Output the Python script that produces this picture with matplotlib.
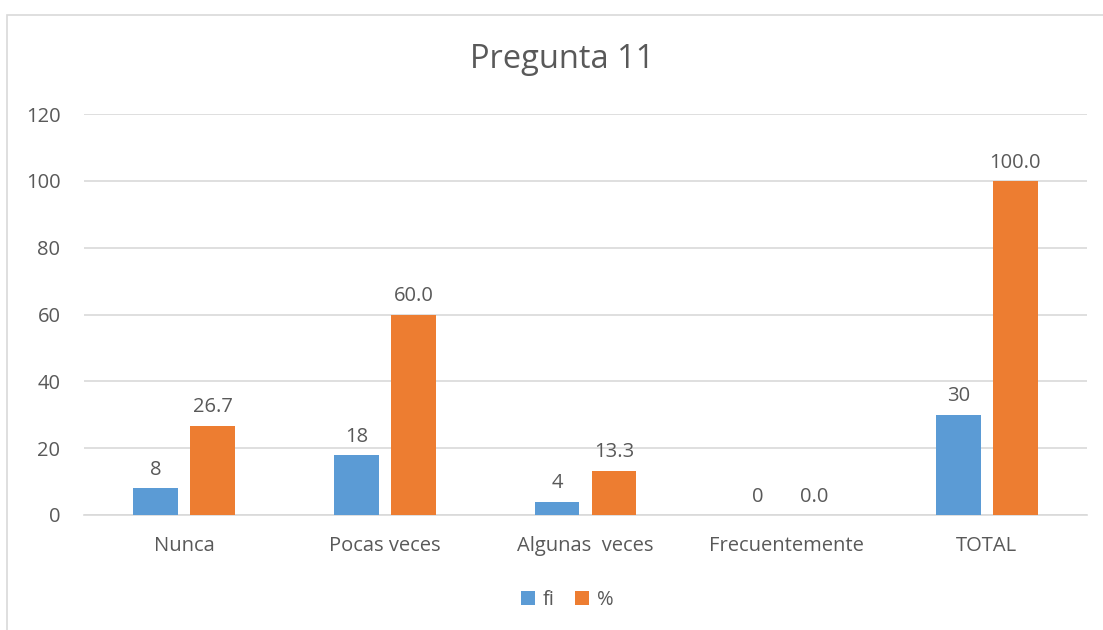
import matplotlib
matplotlib.use('Agg')
import matplotlib.pyplot as plt
from matplotlib.patches import Rectangle
import numpy as np

categories = ['Nunca', 'Pocas veces', 'Algunas  veces', 'Frecuentemente', 'TOTAL']
fi = [8, 18, 4, 0, 30]
pct = [26.7, 60.0, 13.3, 0.0, 100.0]

plt.rcParams['font.family'] = ['Open Sans', 'DejaVu Sans']
txt = '#595959'

fig = plt.figure(figsize=(11.03, 6.3), dpi=100)
ax = fig.add_axes([84 / 1103, 1 - 515 / 630, 1003 / 1103, 401 / 630])

# marco del gráfico
fig.patches.append(Rectangle((7 / 1103, -0.1), 1.2, 1 - 15 / 630 + 0.1,
                             transform=fig.transFigure, fill=False,
                             edgecolor='#d9d9d9', linewidth=1.2))

x = np.arange(len(categories))
w = 0.224
off = 0.142
b1 = ax.bar(x - off, fi, w, color='#5b9bd5', label='fi', zorder=3)
b2 = ax.bar(x + off, pct, w, color='#ed7d31', label='%', zorder=3)

for rect, v in zip(b1, fi):
    ax.annotate(f'{v}', (rect.get_x() + rect.get_width() / 2, v),
                xytext=(0, 6), textcoords='offset points',
                ha='center', va='bottom', fontsize=14.5, color=txt)
for rect, v in zip(b2, pct):
    ax.annotate(f'{v:.1f}', (rect.get_x() + rect.get_width() / 2, v),
                xytext=(0, 6), textcoords='offset points',
                ha='center', va='bottom', fontsize=14.5, color=txt)

ax.set_xlim(-0.5, len(categories) - 0.5)
ax.set_ylim(0, 120)
ax.set_yticks(range(0, 121, 20))
ax.set_xticks(x)
ax.set_xticklabels(categories)
ax.grid(axis='y', color='#d9d9d9', linewidth=1.2, zorder=0)
for s in ['top', 'right', 'left']:
    ax.spines[s].set_visible(False)
ax.spines['bottom'].set_color('#d9d9d9')
ax.spines['bottom'].set_linewidth(1.2)
ax.tick_params(axis='both', length=0, labelsize=14.5, colors=txt)
ax.tick_params(axis='x', pad=15)
ax.tick_params(axis='y', pad=17)

fig.text(562 / 1103, 1 - 60 / 630, 'Pregunta 11', ha='center', va='center',
         fontsize=23.5, color=txt)

fig.legend(handles=[b1, b2], labels=['fi', '%'], loc='center',
           bbox_to_anchor=(567 / 1103, 1 - 600 / 630), ncol=2, frameon=False,
           fontsize=14.5, labelcolor=txt, handlelength=0.7, handleheight=0.7,
           handletextpad=0.4, columnspacing=1.0)

plt.savefig('out.png', dpi=100)
